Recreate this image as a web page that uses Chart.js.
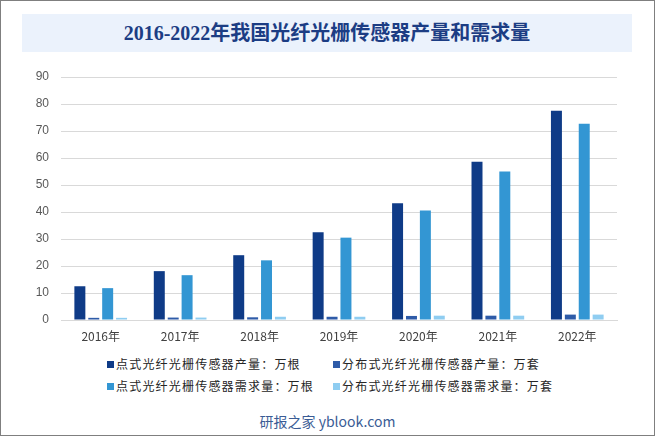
<!DOCTYPE html>
<html>
<head>
<meta charset="utf-8">
<script src="https://cdn.jsdelivr.net/npm/chart.js@4.4.1/dist/chart.umd.min.js"></script>
<style>
    html, body { margin: 0; padding: 0; background: #fff; }
    #wrap {
        position: relative;
        width: 653px;
        height: 434px;
        border: 1px solid #7f7f7f;
        font-family: "Noto Sans CJK SC", "Liberation Sans", sans-serif;
        overflow: hidden;
    }
    #title {
        position: absolute;
        left: 21px;
        top: 13px;
        width: 610px;
        height: 38px;
        line-height: 38px;
        background: #ebf2fc;
        text-align: center;
        color: #1c3d84;
        font-family: "Liberation Serif", "Noto Sans CJK SC", serif;
        font-weight: bold;
        font-size: 20px;
    }
    #chartBox {
        position: absolute;
        left: -1px;
        top: 59px;
        width: 655px;
        height: 290px;
    }
    #legend {
        position: absolute;
        left: 106px;
        top: 353px;
        width: 460px;
        font-size: 12px;
        color: #262626;
        letter-spacing: 1.2px;
    }
    .lg-item {
        position: absolute;
        white-space: nowrap;
        height: 20px;
        line-height: 20px;
    }
    .lg-box {
        display: inline-block;
        width: 7px;
        height: 7px;
        margin-right: 2px;
        vertical-align: 1px;
    }
    #footer {
        position: absolute;
        left: 0;
        width: 653px;
        top: 410px;
        text-align: center;
        font-size: 14px;
        color: #3a5c95;
    }
</style>
</head>
<body>
<div id="wrap">
    <div id="title">2016-2022年我国光纤光栅传感器产量和需求量</div>
    <div id="chartBox"><canvas id="bar01"></canvas></div>
    <div id="legend"></div>
    <div id="footer">研报之家 yblook.com</div>
</div>
<script>
const years = ['2016年', '2017年', '2018年', '2019年', '2020年', '2021年', '2022年'];
const pointOutput = [12.5, 18.1, 24.0, 32.5, 43.2, 58.6, 77.5];
const distOutput = [0.8, 0.9, 1.0, 1.2, 1.5, 1.6, 2.0];
const pointDemand = [11.8, 16.6, 22.1, 30.5, 40.6, 55.0, 72.7];
const distDemand = [0.8, 0.9, 1.2, 1.2, 1.6, 1.6, 2.0];
const seriesNames = [
    '点式光纤光栅传感器产量：万根',
    '分布式光纤光栅传感器产量：万套',
    '点式光纤光栅传感器需求量：万根',
    '分布式光纤光栅传感器需求量：万套',
];
const seriesColors = ['#0f3b87', '#2e5ba8', '#3396d3', '#8fcdf1'];

const seriesValues = [pointOutput, distOutput, pointDemand, distDemand];
const datasets = seriesValues.map((vals, i) => ({
    label: seriesNames[i],
    data: vals,
    backgroundColor: seriesColors[i],
    categoryPercentage: 0.7,
    barPercentage: 0.79,
}));

const ctx = document.getElementById('bar01').getContext('2d');
const chart = new Chart(ctx, {
    type: 'bar',
    data: { labels: years, datasets },
    options: {
        responsive: true,
        maintainAspectRatio: false,
        animation: false,
        layout: {
            padding: { top: 17, right: 38, bottom: 0, left: 0 },
        },
        plugins: {
            legend: { display: false },
            title: { display: false },
            tooltip: { enabled: false },
        },
        scales: {
            x: {
                grid: { display: false, drawTicks: false },
                border: { display: true, color: '#d9d9d9' },
                ticks: {
                    color: '#404040',
                    padding: 9,
                    font: { family: 'Noto Sans CJK SC', size: 12 },
                },
                afterFit(scale) {
                    scale.height = 30;
                },
            },
            y: {
                min: 0,
                max: 90,
                ticks: {
                    stepSize: 10,
                    color: '#595959',
                    padding: 12,
                    font: { family: 'Liberation Sans', size: 12 },
                },
                grid: { color: '#d9d9d9', drawTicks: false },
                border: { display: false },
                afterFit(scale) {
                    scale.width = 61;
                    // tick padding otherwise pushes the top of the plot down
                    scale.paddingTop = 0;
                    scale.paddingBottom = 0;
                },
            },
        },
    },
});

// legend in two columns, built from the datasets
const legendEl = document.getElementById('legend');
const colX = [0, 226];
const rowY = [0, 22];
chart.data.datasets.forEach((ds, i) => {
    const item = document.createElement('div');
    item.className = 'lg-item';
    item.style.left = colX[i % 2] + 'px';
    item.style.top = rowY[Math.floor(i / 2)] + 'px';
    item.innerHTML = `<span class="lg-box" style="background:${ds.backgroundColor}"></span>${ds.label}`;
    legendEl.appendChild(item);
});
</script>
</body>
</html>
